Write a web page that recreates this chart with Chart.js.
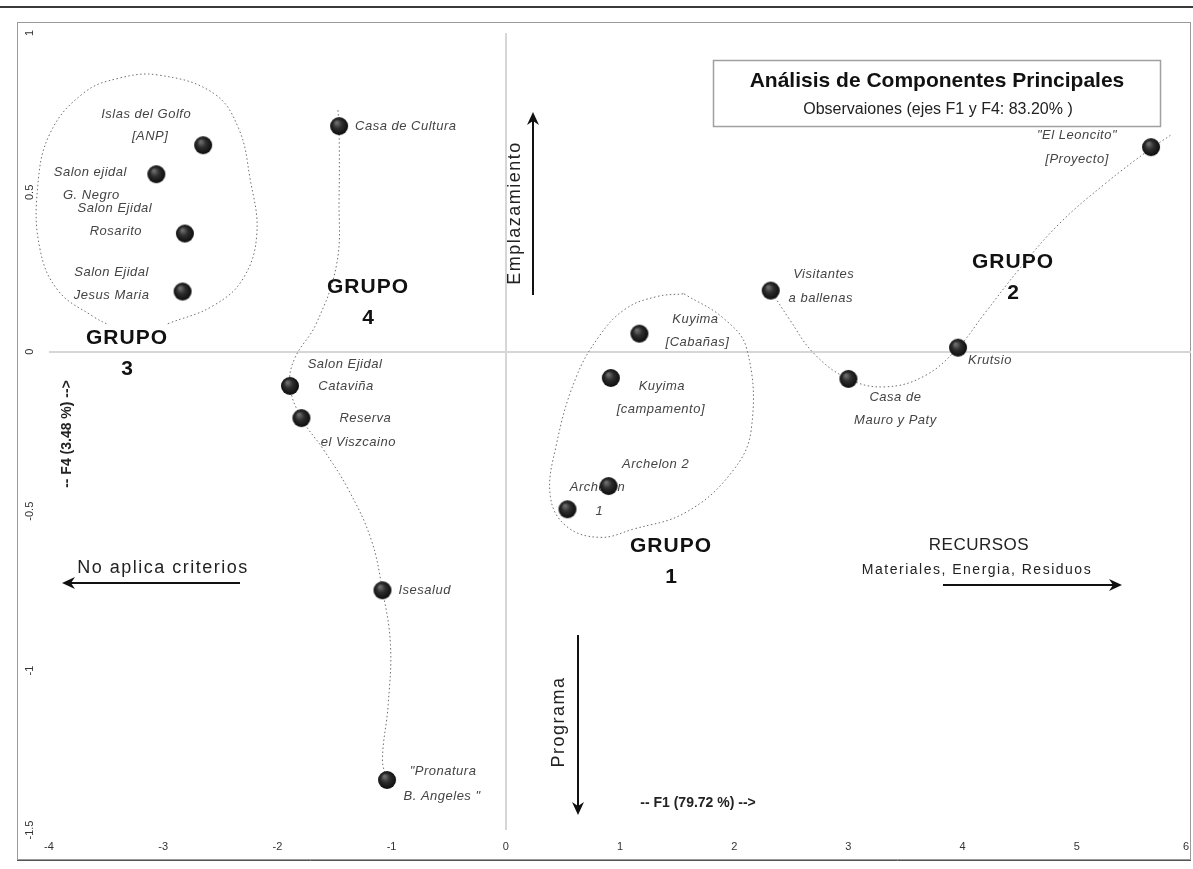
<!DOCTYPE html>
<html>
<head>
<meta charset="utf-8">
<script src="https://cdn.jsdelivr.net/npm/chart.js@4.4.0/dist/chart.umd.min.js"></script>
<style>
  html, body { margin: 0; padding: 0; background: #fff; overflow: hidden; }
  #wrap { width: 1193px; height: 869px; position: relative; }
</style>
</head>
<body>
<div id="wrap"><canvas id="acpChart"></canvas></div>
<script>
const FONT = "'Liberation Sans', Arial, sans-serif";

// observaciones en el plano F1 / F4
const names = [
    'Islas del Golfo|[ANP]', 'Salon ejidal|G. Negro', 'Salon Ejidal|Rosarito', 'Salon Ejidal|Jesus Maria',
    'Casa de Cultura', 'Salon Ejidal|Cataviña', 'Reserva|el Viszcaino', 'Isesalud', '"Pronatura|B. Angeles "',
    'Kuyima|[Cabañas]', 'Kuyima|[campamento]', 'Archelon 2', 'Archelon|1',
    'Visitantes|a ballenas', 'Casa de|Mauro y Paty', 'Krutsio', '"El Leoncito"|[Proyecto]'
];
const f1 = [-2.65, -3.06, -2.81, -2.83, -1.46, -1.89, -1.79, -1.08, -1.04, 1.17, 0.92, 0.90, 0.54, 2.32, 3.00, 3.96, 5.65];
const f4 = [0.648, 0.557, 0.371, 0.189, 0.708, -0.107, -0.208, -0.748, -1.343, 0.057, -0.082, -0.421, -0.494, 0.192, -0.085, 0.013, 0.642];

// axis ticks
const xTicks = [-4, -3, -2, -1, 0, 1, 2, 3, 4, 5, 6];
const yTicks = [1, 0.5, 0, -0.5, -1, -1.5];

// dotted group contours (F1, F4)
const grupo3 = [[-2.96, 0.088], [-2.56, 0.145], [-2.30, 0.230], [-2.18, 0.371], [-2.24, 0.544], [-2.34, 0.701],
    [-2.56, 0.811], [-3.04, 0.868], [-3.39, 0.858], [-3.70, 0.811], [-3.99, 0.686], [-4.10, 0.513],
    [-4.08, 0.324], [-3.92, 0.192], [-3.61, 0.110], [-3.48, 0.085]];
const grupo4 = [[-1.47, 0.758], [-1.46, 0.708], [-1.46, 0.481], [-1.48, 0.277], [-1.66, 0.088], [-1.85, -0.022],
    [-1.89, -0.107], [-1.79, -0.208], [-1.60, -0.305], [-1.38, -0.431], [-1.18, -0.588], [-1.08, -0.748],
    [-1.01, -0.918], [-1.03, -1.107], [-1.08, -1.280], [-1.04, -1.343]];
const grupo1 = [[1.56, 0.182], [1.91, 0.104], [2.11, 0.009], [2.15, -0.242], [1.98, -0.377], [1.58, -0.503],
    [1.11, -0.557], [0.82, -0.582], [0.53, -0.547], [0.39, -0.453], [0.44, -0.296], [0.61, -0.085],
    [0.82, 0.050], [1.05, 0.135], [1.32, 0.173], [1.56, 0.182]];
const grupo2 = [[2.32, 0.192], [2.48, 0.104], [2.70, -0.006], [3.00, -0.085], [3.32, -0.110], [3.67, -0.075],
    [3.96, 0.013], [4.19, 0.119], [4.50, 0.261], [4.85, 0.403], [5.25, 0.528], [5.65, 0.638], [5.82, 0.679]];

// label placement, px from the marker (centered unless 'L')
const labelOffsets = [
    [[-57, -31], [-53, -9]],
    [[-66, -2], [-65, 21]],
    [[-70, -25], [-69, -2]],
    [[-71, -19], [-71, 4]],
    [[16, 0, 'L']],
    [[55, -22], [56, 0]],
    [[64, 0], [57, 24]],
    [[16, 0, 'L']],
    [[56, -9], [55, 16]],
    [[56, -14], [58, 9]],
    [[51, 8], [50, 31]],
    [[47, -22]],
    [[30, -22], [32, 2]],
    [[53, -16], [50, 8]],
    [[47, 18], [47, 41]],
    [[10, 13, 'L']],
    [[-74, -12], [-74, 12]]
];

const toXY = arr => arr.map(p => ({ x: p[0], y: p[1] }));

// shaded ball used as marker (image point style keeps Chart.js from padding the plot area)
function makeBall() {
    const c = document.createElement('canvas');
    c.width = 20;
    c.height = 20;
    const g = c.getContext('2d');
    const grad = g.createRadialGradient(7.5, 6.5, 1, 10, 10, 9.5);
    grad.addColorStop(0, '#6a6a6a');
    grad.addColorStop(0.4, '#2e2e2e');
    grad.addColorStop(1, '#0a0a0a');
    g.fillStyle = grad;
    g.beginPath();
    g.arc(10, 10, 9, 0, Math.PI * 2);
    g.fill();
    return c;
}

function contour(points) {
    return {
        type: 'line',
        data: toXY(points),
        showLine: true,
        borderColor: '#6e6e6e',
        borderWidth: 1,
        borderDash: [1.5, 2.5],
        tension: 0.4,
        pointRadius: 0,
        clip: false
    };
}

function arrow(ctx, x1, y1, x2, y2) {
    const a = Math.atan2(y2 - y1, x2 - x1);
    ctx.save();
    ctx.strokeStyle = '#111';
    ctx.fillStyle = '#111';
    ctx.lineWidth = 2;
    ctx.beginPath();
    ctx.moveTo(x1, y1);
    ctx.lineTo(x2 - 8 * Math.cos(a), y2 - 8 * Math.sin(a));
    ctx.stroke();
    ctx.translate(x2, y2);
    ctx.rotate(a);
    ctx.beginPath();
    ctx.moveTo(0, 0);
    ctx.lineTo(-13, -6);
    ctx.lineTo(-9, 0);
    ctx.lineTo(-13, 6);
    ctx.closePath();
    ctx.fill();
    ctx.restore();
}

function text(ctx, str, x, y, font, opts = {}) {
    ctx.save();
    ctx.font = font;
    ctx.fillStyle = opts.color || '#111';
    ctx.textAlign = opts.align || 'center';
    ctx.textBaseline = 'middle';
    ctx.letterSpacing = opts.spacing || '0px';
    ctx.translate(x, y);
    if (opts.vertical) ctx.rotate(-Math.PI / 2);
    ctx.fillText(str, 0, 0);
    ctx.restore();
}

const framePlugin = {
    id: 'frame',
    beforeDraw(chart) {
        const ctx = chart.ctx;
        ctx.save();
        ctx.fillStyle = '#fff';
        ctx.fillRect(0, 0, chart.width, chart.height);
        ctx.strokeStyle = '#3a3a3a';
        ctx.lineWidth = 2;
        ctx.beginPath();
        ctx.moveTo(0, 7);
        ctx.lineTo(chart.width, 7);
        ctx.stroke();
        ctx.strokeStyle = '#9a9a9a';
        ctx.lineWidth = 1;
        ctx.strokeRect(17.5, 22.5, 1173, 837);
        ctx.strokeStyle = '#555';
        ctx.beginPath();
        ctx.moveTo(17, 860.5);
        ctx.lineTo(1191, 860.5);
        ctx.stroke();
        ctx.restore();
    },
    // point labels go under the markers, as in the original
    beforeDatasetsDraw(chart) {
        const ctx = chart.ctx;
        const meta = chart.getDatasetMeta(0);
        names.forEach((n, i) => {
            const pt = meta.data[i];
            n.split('|').forEach((line, j) => {
                const off = labelOffsets[i][j];
                text(ctx, line, pt.x + off[0], pt.y + off[1], 'italic 13px ' + FONT,
                    { color: '#444', align: off[2] === 'L' ? 'left' : 'center', spacing: '0.5px' });
            });
        });
    }
};

const annotationPlugin = {
    id: 'annotations',
    afterDraw(chart) {
        const ctx = chart.ctx;
        const xs = chart.scales.x, ys = chart.scales.y;

        // tick labels
        xTicks.forEach(v => text(ctx, String(v), Math.min(xs.getPixelForValue(v), 1186), 847, '11px ' + FONT, { color: '#333' }));
        yTicks.forEach(v => text(ctx, String(v), 30, ys.getPixelForValue(v), '11px ' + FONT, { color: '#333', vertical: true }));

        // group labels
        const gFont = 'bold 21px ' + FONT;
        [['3', 127, 338], ['4', 368, 287], ['1', 671, 546], ['2', 1013, 262]].forEach(g => {
            text(ctx, 'GRUPO', g[1], g[2], gFont, { spacing: '1px' });
            text(ctx, g[0], g[1], g[2] + 31, gFont);
        });

        // title box
        ctx.save();
        ctx.fillStyle = '#fff';
        ctx.fillRect(713, 60, 447, 67);
        ctx.strokeStyle = '#a0a0a0';
        ctx.lineWidth = 1.5;
        ctx.strokeRect(713.5, 60.5, 447, 66);
        ctx.restore();
        text(ctx, 'Análisis de Componentes Principales', 937, 81, 'bold 21px ' + FONT);
        text(ctx, 'Observaiones (ejes F1 y F4: 83.20% )', 938, 110, '16px ' + FONT, { color: '#222' });

        // direction arrows
        arrow(ctx, 533, 295, 533, 112);
        text(ctx, 'Emplazamiento', 515, 213, '18px ' + FONT, { vertical: true, spacing: '1.5px', color: '#222' });
        arrow(ctx, 578, 635, 578, 815);
        text(ctx, 'Programa', 559, 722, '18px ' + FONT, { vertical: true, spacing: '1.5px', color: '#222' });
        arrow(ctx, 240, 583, 62, 583);
        text(ctx, 'No aplica criterios', 163, 568, '18px ' + FONT, { spacing: '1.5px', color: '#222' });
        arrow(ctx, 943, 585, 1122, 585);
        text(ctx, 'RECURSOS', 979, 545, '17px ' + FONT, { spacing: '0.5px', color: '#222' });
        text(ctx, 'Materiales, Energia, Residuos', 977, 570, '14px ' + FONT, { spacing: '1.5px', color: '#222' });

        // axis titles
        text(ctx, '-- F1 (79.72 %) -->', 698, 803, 'bold 14px ' + FONT, { color: '#222' });
        text(ctx, '-- F4 (3.48 %) -->', 67, 434, 'bold 14px ' + FONT, { vertical: true, color: '#222' });
    }
};

document.addEventListener('DOMContentLoaded', () => {
    const ctx = document.getElementById('acpChart').getContext('2d');
    const zeroLine = c => (c.tick && c.tick.value === 0) ? '#d6d6d6' : 'rgba(0,0,0,0)';
    const ball = makeBall();
    new Chart(ctx, {
        type: 'scatter',
        data: {
            datasets: [
                {
                    label: 'Observaciones',
                    data: f1.map((x, i) => ({ x: x, y: f4[i] })),
                    pointStyle: ball,
                    pointRadius: 0.5,
                    pointHoverRadius: 0.5,
                    borderWidth: 0
                },
                contour(grupo3),
                contour(grupo4),
                contour(grupo1),
                contour(grupo2)
            ]
        },
        options: {
            responsive: true,
            maintainAspectRatio: false,
            animation: false,
            layout: { padding: { top: 33, right: 2, left: 0, bottom: 0 } },
            plugins: {
                legend: { display: false },
                title: { display: false },
                tooltip: { enabled: false }
            },
            scales: {
                x: {
                    type: 'linear',
                    min: -4,
                    max: 6,
                    ticks: { stepSize: 1, display: false },
                    grid: { color: zeroLine, lineWidth: 2, drawTicks: false },
                    border: { display: false },
                    afterFit: s => { s.height = 39; }
                },
                y: {
                    type: 'linear',
                    min: -1.5,
                    max: 1,
                    ticks: { stepSize: 0.5, display: false },
                    grid: { color: zeroLine, lineWidth: 2, drawTicks: false },
                    border: { display: false },
                    afterFit: s => { s.width = 49; }
                }
            }
        },
        plugins: [framePlugin, annotationPlugin]
    });
});
</script>
</body>
</html>
